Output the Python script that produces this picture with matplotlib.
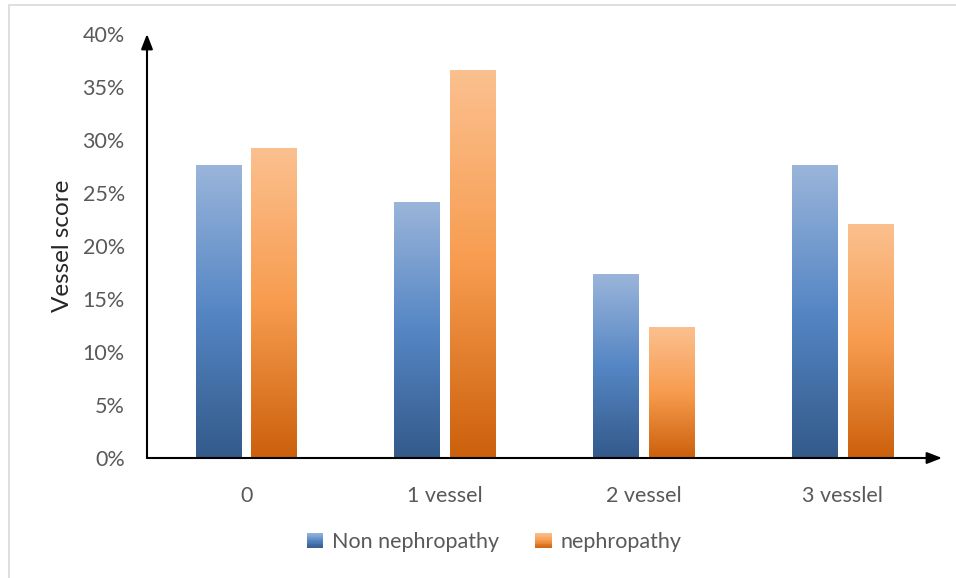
import matplotlib
matplotlib.use("Agg")
import matplotlib.pyplot as plt
import numpy as np
from matplotlib.colors import LinearSegmentedColormap
from matplotlib.patches import Rectangle
from matplotlib.legend_handler import HandlerBase

categories = ["0", "1 vessel", "2 vessel", "3 vesslel"]
non_nephropathy = [0.276, 0.241, 0.173, 0.276]
nephropathy = [0.292, 0.366, 0.123, 0.220]
yticks = [0, 0.05, 0.10, 0.15, 0.20, 0.25, 0.30, 0.35, 0.40]

blue_cmap = LinearSegmentedColormap.from_list("b", ["#335a8a", "#5586c4", "#9ab5da"])
orange_cmap = LinearSegmentedColormap.from_list("o", ["#cc600c", "#f79c4f", "#fbc08f"])

plt.rcParams["font.family"] = ["Lato", "DejaVu Sans"]

fig = plt.figure(figsize=(9.56, 5.78), dpi=100)
ax = fig.add_axes([147 / 956, 1 - 458 / 578, (942 - 147) / 956, (458 - 34) / 578])

# thin gray frame like the original chart box
fig.patches.append(Rectangle((9 / 956, -0.1), 1.2, 1 - 5 / 578 + 0.1,
                             transform=fig.transFigure, fill=False,
                             edgecolor="#d9d9d9", linewidth=1.2))

x = np.arange(len(categories))
w = 0.23
off = 0.14
grad = np.linspace(0, 1, 256).reshape(-1, 1)

def gradient_bars(xs, hs, cmap):
    for xi, h in zip(xs, hs):
        ax.imshow(grad, extent=[xi - w / 2, xi + w / 2, 0, h], origin="lower",
                  cmap=cmap, aspect="auto", zorder=2)

gradient_bars(x - off, non_nephropathy, blue_cmap)
gradient_bars(x + off, nephropathy, orange_cmap)

ax.set_xlim(-0.5, len(categories) - 0.5)
ax.set_ylim(0, 0.40)
ax.set_yticks(yticks)
ax.set_yticklabels(["%d%%" % round(v * 100) for v in yticks])
ax.set_xticks(x)
ax.set_xticklabels(categories)
ax.tick_params(axis="both", length=0, labelsize=15.5, labelcolor="#595959")
ax.tick_params(axis="y", pad=16)
ax.tick_params(axis="x", pad=20)
for s in ax.spines.values():
    s.set_visible(False)

ax.annotate("", xy=(0, 1.0), xytext=(0, 0), xycoords="axes fraction",
            arrowprops=dict(arrowstyle="-|>,head_width=0.35,head_length=0.9",
                            color="black", lw=1.5, shrinkA=0, shrinkB=0))
ax.annotate("", xy=(1.0, 0), xytext=(0, 0), xycoords="axes fraction",
            arrowprops=dict(arrowstyle="-|>,head_width=0.35,head_length=0.9",
                            color="black", lw=1.5, shrinkA=0, shrinkB=0))

ax.set_ylabel("Vessel score", fontsize=17.5, color="#262626", labelpad=7)


class GradientHandler(HandlerBase):
    def __init__(self, cmap):
        super().__init__()
        self.cmap = cmap

    def create_artists(self, legend, orig_handle, xdescent, ydescent,
                       width, height, fontsize, trans):
        n = 20
        out = []
        for i in range(n):
            r = Rectangle((-xdescent, -ydescent + height * i / n), width,
                          height / n + 0.05, facecolor=self.cmap(i / (n - 1)),
                          edgecolor="none", transform=trans)
            out.append(r)
        return out


h1 = Rectangle((0, 0), 1, 1)
h2 = Rectangle((0, 0), 1, 1)
fig.legend([h1, h2], ["Non nephropathy", "nephropathy"], loc="center",
           bbox_to_anchor=(494 / 956, 1 - 542 / 578), ncol=2, frameon=False,
           fontsize=15.5, labelcolor="#595959", handlelength=0.75, handleheight=0.75,
           handletextpad=0.4, columnspacing=1.7,
           handler_map={h1: GradientHandler(blue_cmap), h2: GradientHandler(orange_cmap)})

fig.savefig("out.png", dpi=100)
